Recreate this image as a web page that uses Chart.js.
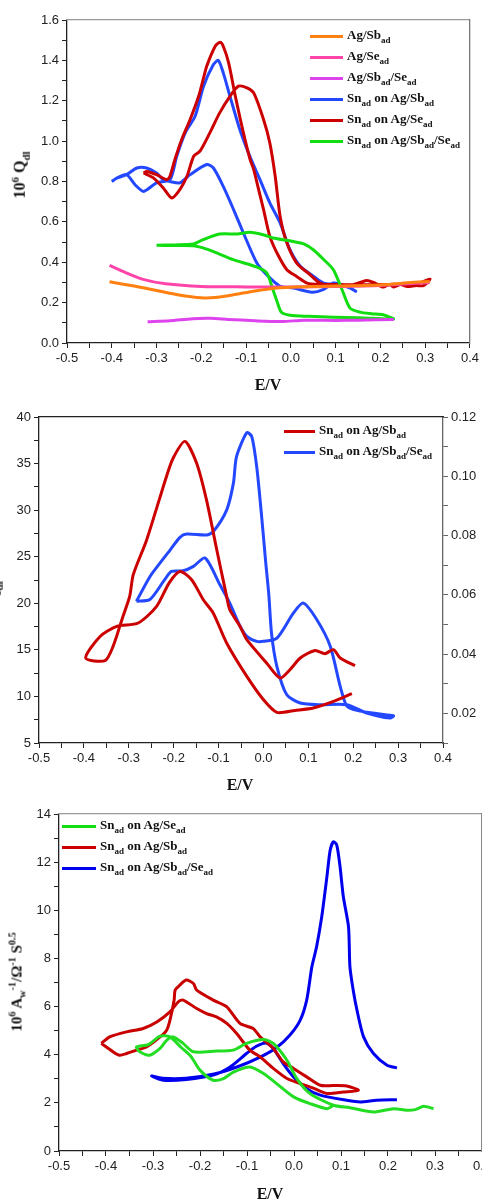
<!DOCTYPE html>
<html>
<head>
<meta charset="utf-8">
<script src="https://cdn.jsdelivr.net/npm/chart.js@4.4.0/dist/chart.umd.min.js"></script>
<style>
  html, body { margin: 0; padding: 0; background: #fff; overflow: hidden; width: 482px; height: 1199px; }
  canvas { position: absolute; left: 0; }
  .lab { position: absolute; font-family: "Liberation Serif", "Times New Roman", serif; font-weight: bold; color: #111; white-space: nowrap; }
  .lab sub, .lab sup { font-size: 68%; }
  .leg { position: absolute; font-family: "Liberation Serif", "Times New Roman", serif; font-weight: bold; font-size: 13px; color: #111; white-space: nowrap; }
  .leg div { position: relative; height: 21px; line-height: 21px; }
  .leg span.sw { display: inline-block; width: 33px; height: 3px; vertical-align: middle; margin-right: 4px; }
  .leg sub { font-size: 9px; }
  .rot { transform: translate(-50%, -50%) rotate(-90deg); }
  .ctr { transform: translate(-50%, -50%); }
</style>
</head>
<body>
<canvas id="c1" width="482" height="400" style="top:0"></canvas>
<canvas id="c2" width="482" height="400" style="top:400px"></canvas>
<canvas id="c3" width="530" height="399" style="top:800px"></canvas>

<!-- axis titles -->
<div class="lab rot" style="left:20px;top:175px;font-size:16px">10<sup>6</sup> Q<sub>dl</sub></div>
<div class="lab ctr" style="left:268px;top:385px;font-size:16px">E/V</div>
<div class="lab rot" style="left:-7px;top:605px;font-size:16px">10<sup>6</sup> Q<sub>dl</sub></div>
<div class="lab ctr" style="left:240px;top:785px;font-size:16px">E/V</div>
<div class="lab rot" style="left:17px;top:982px;font-size:15px">10<sup>6</sup> A<sub>w</sub><sup>-1</sup>/&Omega;<sup>-1</sup> S<sup>0.5</sup></div>
<div class="lab ctr" style="left:270px;top:1194px;font-size:16px">E/V</div>

<!-- legends -->
<div class="leg" style="left:310px;top:24px">
  <div><span class="sw" style="background:#ff8010"></span>Ag/Sb<sub>ad</sub></div>
  <div><span class="sw" style="background:#ff44aa"></span>Ag/Se<sub>ad</sub></div>
  <div><span class="sw" style="background:#dd44ee"></span>Ag/Sb<sub>ad</sub>/Se<sub>ad</sub></div>
  <div><span class="sw" style="background:#2448ff"></span>Sn<sub>ad</sub> on Ag/Sb<sub>ad</sub></div>
  <div><span class="sw" style="background:#cc0000"></span>Sn<sub>ad</sub> on Ag/Se<sub>ad</sub></div>
  <div><span class="sw" style="background:#11dd11"></span>Sn<sub>ad</sub> on Ag/Sb<sub>ad</sub>/Se<sub>ad</sub></div>
</div>
<div class="leg" style="left:284px;top:419px">
  <div><span class="sw" style="background:#cc0000;width:31px"></span>Sn<sub>ad</sub> on Ag/Sb<sub>ad</sub></div>
  <div><span class="sw" style="background:#2448ff;width:31px"></span>Sn<sub>ad</sub> on Ag/Sb<sub>ad</sub>/Se<sub>ad</sub></div>
</div>
<div class="leg" style="left:62px;top:814px">
  <div><span class="sw" style="background:#11dd11;width:34px"></span>Sn<sub>ad</sub> on Ag/Se<sub>ad</sub></div>
  <div><span class="sw" style="background:#cc0000;width:34px"></span>Sn<sub>ad</sub> on Ag/Sb<sub>ad</sub></div>
  <div><span class="sw" style="background:#0000ee;width:34px"></span>Sn<sub>ad</sub> on Ag/Sb<sub>ad</sub>/Se<sub>ad</sub></div>
</div>

<script>
// ---- panel 1 : 10^6 Qdl vs E ----
const p1AgSbE = [-0.405,-0.35,-0.3,-0.25,-0.2,-0.17,-0.13,-0.08,-0.03,0.05,0.15,0.22,0.26,0.31];
const p1AgSbQ = [0.303,0.282,0.26,0.238,0.224,0.225,0.238,0.258,0.273,0.28,0.284,0.29,0.298,0.305];
const p1AgSeE = [-0.405,-0.37,-0.33,-0.28,-0.2,-0.1,0,0.1,0.2,0.31];
const p1AgSeQ = [0.385,0.35,0.315,0.293,0.28,0.278,0.278,0.28,0.285,0.30];
const p1AgSbSeE = [-0.32,-0.27,-0.22,-0.18,-0.14,-0.08,-0.02,0.03,0.1,0.15,0.23];
const p1AgSbSeQ = [0.105,0.11,0.12,0.122,0.117,0.11,0.106,0.113,0.112,0.113,0.117];
const p1SnSbE = [-0.400,-0.389,-0.367,-0.344,-0.322,-0.300,-0.285,-0.270,-0.248,-0.225,
  -0.188,-0.173,-0.151,-0.128,-0.106,-0.076,-0.054,-0.024,0.006,0.047,
  0.072,0.095,0.125,0.145,0.130,0.100,0.073,0.051,0.021,-0.002,
  -0.024,-0.047,-0.069,-0.083,-0.098,-0.114,-0.136,-0.151,-0.162,-0.173,
  -0.195,-0.214,-0.236,-0.255,-0.270,-0.300,-0.329,-0.348,-0.367,-0.389,-0.400];
const p1SnSbQ = [0.800,0.817,0.834,0.867,0.867,0.842,0.809,0.800,0.793,0.834,
  0.884,0.867,0.776,0.661,0.545,0.396,0.338,0.281,0.272,0.251,
  0.264,0.297,0.281,0.256,0.275,0.290,0.297,0.330,0.380,0.462,
  0.595,0.694,0.809,0.880,0.960,1.057,1.222,1.338,1.400,1.379,
  1.272,1.123,1.041,0.925,0.809,0.793,0.751,0.784,0.834,0.817,0.800];
const p1SnSeE = [-0.329,-0.307,-0.285,-0.266,-0.248,-0.232,-0.217,-0.203,-0.181,-0.159,
  -0.136,-0.117,-0.098,-0.083,-0.061,-0.047,-0.035,-0.024,-0.009,0.013,
  0.043,0.065,0.095,0.139,0.169,0.185,0.206,0.22,0.23,0.245,
  0.26,0.28,0.296,0.311,0.29,0.25,0.2,0.15,0.1,0.065,
  0.036,0.013,-0.009,-0.031,-0.047,-0.061,-0.072,-0.083,-0.091,-0.106,
  -0.124,-0.139,-0.151,-0.158,-0.169,-0.188,-0.195,-0.206,-0.225,-0.244,
  -0.259,-0.270,-0.277,-0.300,-0.322,-0.329];
const p1SnSeQ = [0.842,0.818,0.768,0.718,0.76,0.826,0.925,0.95,1.041,1.14,
  1.222,1.272,1.264,1.239,1.107,0.991,0.826,0.627,0.496,0.396,
  0.338,0.297,0.28,0.289,0.31,0.30,0.277,0.29,0.278,0.29,
  0.28,0.285,0.284,0.317,0.30,0.292,0.29,0.288,0.29,0.29,
  0.297,0.33,0.363,0.446,0.528,0.661,0.76,0.859,0.909,1.041,
  1.222,1.388,1.47,1.49,1.47,1.371,1.313,1.222,1.107,1.007,
  0.909,0.826,0.809,0.834,0.85,0.842];
const p1SnSbSeE = [-0.300,-0.26,-0.218,-0.196,-0.159,-0.12,-0.092,-0.06,-0.04,0.005,
  0.03,0.05,0.075,0.095,0.115,0.132,0.154,0.18,0.206,0.229,
  0.15,0.095,0.04,-0.002,-0.021,-0.03,-0.04,-0.054,-0.077,-0.129,
  -0.17,-0.196,-0.218,-0.260,-0.300];
const p1SnSbSeQ = [0.484,0.486,0.49,0.512,0.54,0.54,0.548,0.535,0.52,0.503,
  0.49,0.462,0.41,0.363,0.26,0.173,0.153,0.145,0.14,0.119,
  0.125,0.128,0.132,0.137,0.152,0.2,0.264,0.347,0.377,0.413,
  0.45,0.471,0.482,0.483,0.484];

// ---- panel 2 : red on left axis, blue on right axis ----
const p2SnSbE = [0.197,0.156,0.111,0.07,0.030,0.000,-0.037,-0.082,-0.112,-0.134,
  -0.160,-0.186,-0.21,-0.238,-0.279,-0.327,-0.364,-0.396,-0.353,-0.335,
  -0.313,-0.298,-0.290,-0.260,-0.216,-0.201,-0.175,-0.149,-0.127,-0.104,
  -0.082,-0.075,-0.052,-0.037,0.007,0.037,0.059,0.082,0.115,0.137,
  0.156,0.171,0.204];
const p2SnSbQ = [10.29,9.47,8.76,8.5,8.28,9.65,12.15,15.74,18.96,20.38,
  22.53,23.42,22.2,19.67,17.88,17.52,16.44,14.12,13.84,15.37,
  18.59,20.74,23.07,26.83,33.62,35.60,37.38,35.06,31.12,25.75,
  20.74,19.31,17.52,16.09,13.59,11.98,12.87,14.12,14.94,14.59,
  15.02,14.12,13.30];
const p2SnSbSeE = [-0.283,-0.253,-0.231,-0.208,-0.186,-0.171,-0.127,-0.112,-0.082,-0.067,
  -0.060,-0.037,-0.026,-0.015,-0.004,0.005,0.012,0.018,0.030,0.052,
  0.082,0.126,0.186,0.230,0.282,0.290,0.268,0.208,0.186,0.171,
  0.149,0.119,0.089,0.067,0.030,0.0,-0.015,-0.037,-0.052,-0.075,
  -0.097,-0.130,-0.156,-0.179,-0.205,-0.220,-0.253,-0.283];
const p2SnSbSeQ = [0.0578,0.0661,0.0706,0.0751,0.0794,0.0805,0.0802,0.0813,0.0886,0.0976,
  0.1066,0.1147,0.1134,0.1032,0.0864,0.0710,0.0600,0.0470,0.0358,0.0263,
  0.0235,0.0229,0.0229,0.0201,0.0184,0.0192,0.0196,0.0210,0.0224,0.0291,
  0.0426,0.0516,0.0572,0.0539,0.0454,0.0443,0.0443,0.0460,0.0494,0.0572,
  0.0634,0.0724,0.0696,0.0681,0.0679,0.0651,0.0584,0.0578];

// ---- panel 3 : 10^6 Aw^-1 vs E ----
const p3SnSeE = [0.297,0.276,0.258,0.24,0.212,0.169,0.119,0.084,0.034,0.006,
  -0.015,-0.044,-0.065,-0.101,-0.129,-0.165,-0.214,-0.236,-0.257,-0.271,
  -0.285,-0.307,-0.328,-0.335,-0.31,-0.285,-0.264,-0.24,-0.22,-0.2,
  -0.172,-0.15,-0.129,-0.094,-0.065,-0.037,-0.001,0.034,0.07,0.084];
const p3SnSeA = [1.76,1.86,1.72,1.69,1.76,1.62,1.80,1.90,2.39,3.01,
  3.77,4.47,4.63,4.47,4.19,4.15,4.12,4.47,4.74,4.60,
  4.26,3.98,4.12,4.32,4.42,4.77,4.74,4.30,3.95,3.36,
  2.94,3.01,3.28,3.49,3.22,2.80,2.25,1.97,1.76,1.90];
const p3SnSbE = [-0.410,-0.392,-0.356,-0.321,-0.292,-0.264,-0.246,-0.236,-0.207,-0.186,
  -0.165,-0.143,-0.122,-0.094,-0.072,-0.044,-0.015,0.013,0.040,0.070,
  0.105,0.137,0.112,0.084,0.056,0.027,-0.001,-0.023,-0.044,-0.072,
  -0.087,-0.115,-0.143,-0.172,-0.207,-0.214,-0.229,-0.243,-0.253,-0.255,
  -0.264,-0.271,-0.285,-0.314,-0.335,-0.356,-0.371,-0.385,-0.410];
const p3SnSbA = [4.47,4.74,4.95,5.09,5.36,5.78,6.20,6.27,5.92,5.71,
  5.57,5.30,4.88,4.19,3.91,3.43,3.01,2.80,2.62,2.39,
  2.45,2.52,2.70,2.72,2.73,3.08,3.43,3.70,4.26,4.74,
  5.09,5.30,5.99,6.27,6.68,6.96,7.10,6.89,6.68,6.27,
  5.43,5.02,4.74,4.32,4.19,4.05,3.98,4.12,4.47];
const p3SnSbSeE = [0.219,0.176,0.141,0.112,0.056,0.027,-0.001,-0.023,-0.044,-0.060,
  -0.08,-0.101,-0.136,-0.172,-0.229,-0.278,-0.303,-0.28,-0.23,-0.17,
  -0.12,-0.072,-0.037,-0.009,0.013,0.027,0.038,0.048,0.059,0.070,
  0.077,0.084,0.091,0.098,0.105,0.116,0.119,0.126,0.134,0.148,
  0.169,0.198,0.219];
const p3SnSbSeA = [2.13,2.11,2.04,2.11,2.32,2.59,3.08,3.63,4.26,4.49,
  4.35,4.05,3.49,3.15,2.97,2.94,3.12,3.02,3.02,3.2,
  3.5,3.9,4.3,4.81,5.43,6.27,7.65,8.48,9.73,11.39,
  12.5,12.85,12.71,11.81,10.56,9.31,7.65,6.68,5.85,4.74,
  4.05,3.56,3.45];

Chart.defaults.font.family = '"Liberation Sans", Arial, sans-serif';
Chart.defaults.font.size = 13;
Chart.defaults.color = '#222';

function pts(xs, ys) {
  return xs.map((x, i) => ({ x: x, y: ys[i] }));
}

function curve(xs, ys, color, axisId) {
  return {
    data: pts(xs, ys),
    showLine: true,
    borderColor: color,
    backgroundColor: color,
    borderWidth: 3,
    pointRadius: 0,
    tension: 0.25,
    fill: false,
    yAxisID: axisId || 'y'
  };
}

// axis with ticks every `step`, labels only where fmt returns text
function axis(position, min, max, step, fmt, size, color) {
  return {
    type: 'linear',
    position: position,
    min: min,
    max: max,
    ticks: {
      display: !!fmt,
      stepSize: step,
      autoSkip: false,
      maxRotation: 0,
      padding: 3,
      color: '#222',
      callback: fmt || (() => '')
    },
    grid: { drawOnChartArea: false, drawTicks: !!fmt, tickLength: 5, tickColor: color, tickWidth: 1 },
    border: { display: true, color: color, width: 1.3 },
    afterFit: (s) => {
      if (position === 'left' || position === 'right') s.width = size;
      else s.height = size;
    }
  };
}

// only label the major ticks
const fmtE = v => { const t = Math.round(v * 100); return t % 10 === 0 ? (t / 100).toFixed(1) : ''; };
const fmtQ = v => { const t = Math.round(v * 10); return t % 2 === 0 ? (t / 10).toFixed(1) : ''; };
const fmtQ2 = v => { const t = Math.round(v * 10); return t % 50 === 0 ? String(t / 10) : ''; };
const fmtR = v => { const t = Math.round(v * 100); return t % 2 === 0 ? (t / 100).toFixed(2) : ''; };
const fmtA = v => { const t = Math.round(v); return t % 2 === 0 ? String(t) : ''; };

function makeChart(id, datasets, scales) {
  return new Chart(document.getElementById(id), {
    type: 'scatter',
    data: { datasets: datasets },
    options: {
      responsive: false,
      animation: false,
      layout: { padding: 0 },
      plugins: { legend: { display: false }, tooltip: { enabled: false } },
      scales: scales
    }
  });
}

makeChart('c1', [
  curve(p1AgSbE, p1AgSbQ, '#ff8010'),
  curve(p1AgSeE, p1AgSeQ, '#ff44aa'),
  curve(p1AgSbSeE, p1AgSbSeQ, '#dd44ee'),
  curve(p1SnSbSeE, p1SnSbSeQ, '#11dd11'),
  curve(p1SnSeE, p1SnSeQ, '#cc0000'),
  curve(p1SnSbE, p1SnSbQ, '#2448ff')
], {
  x: axis('bottom', -0.5, 0.4, 0.05, fmtE, 57, '#222'),
  y: axis('left', 0, 1.6, 0.1, fmtQ, 67, '#222'),
  xt: axis('top', 0, 1, 1, null, 20, '#999'),
  yr: axis('right', 0, 1, 1, null, 12, '#777')
});

makeChart('c2', [
  curve(p2SnSbE, p2SnSbQ, '#cc0000', 'y'),
  curve(p2SnSbSeE, p2SnSbSeQ, '#2448ff', 'y1')
], {
  x: axis('bottom', -0.5, 0.4, 0.05, fmtE, 57, '#222'),
  y: axis('left', 5, 40, 2.5, fmtQ2, 39, '#222'),
  y1: axis('right', 0.01, 0.12, 0.01, fmtR, 39, '#666'),
  xt: axis('top', 0, 1, 1, null, 17, '#222')
});

makeChart('c3', [
  curve(p3SnSeE, p3SnSeA, '#22dd22'),
  curve(p3SnSbE, p3SnSbA, '#c80000'),
  curve(p3SnSbSeE, p3SnSbSeA, '#0000ee')
], {
  x: axis('bottom', -0.5, 0.4, 0.05, fmtE, 48, '#222'),
  y: axis('left', 0, 14, 1, fmtA, 59, '#222'),
  xt: axis('top', 0, 1, 1, null, 14, '#999'),
  yr: axis('right', 0, 1, 1, null, 48, '#888')
});
</script>
</body>
</html>
